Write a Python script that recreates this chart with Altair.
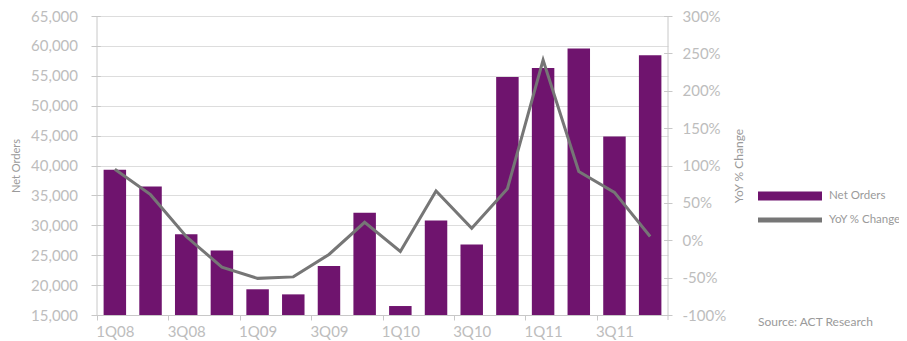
import altair as alt
import pandas as pd

# ---- data ----
quarters = ["1Q08", "2Q08", "3Q08", "4Q08", "1Q09", "2Q09", "3Q09", "4Q09",
            "1Q10", "2Q10", "3Q10", "4Q10", "1Q11", "2Q11", "3Q11", "4Q11"]
net_orders = [39300, 36500, 28500, 25800, 19300, 18450, 23200, 32100,
              16500, 30800, 26800, 54800, 56300, 59550, 44850, 58450]
yoy_change = [95, 61, 5, -36, -51, -49, -19, 24,
              -15, 66, 16, 69, 241, 92, 64, 5]
tick_labels = ["1Q08", "3Q08", "1Q09", "3Q09", "1Q10", "3Q10", "1Q11", "3Q11"]
left_ticks = [15000, 20000, 25000, 30000, 35000, 40000, 45000, 50000, 55000, 60000, 65000]
right_ticks = [-100, -50, 0, 50, 100, 150, 200, 250, 300]
series_names = ["Net Orders", "YoY % Change"]
source_text = "Source: ACT Research"

# ---- styling ----
W, H = 571, 299
STEP = W / 16
PURPLE = "#6f146e"
GRAY = "#767676"
AXIS = "#c8c8c8"
LABEL = "#bdbdbd"
TITLE = "#9a9a9a"
FONT = "Lato"

df = pd.DataFrame({
    "quarter": quarters,
    "orders": net_orders,
    "yoy": yoy_change,
    "s1": series_names[0],
    "s2": series_names[1],
})

x_enc = alt.X(
    "quarter:N", sort=quarters, title=None,
    scale=alt.Scale(paddingInner=0.37, paddingOuter=0.185),
    axis=alt.Axis(values=tick_labels, tickOffset=-STEP / 2, labelOffset=STEP / 2,
                  labelAngle=0, labelFontSize=15, labelColor=LABEL, labelFont=FONT,
                  labelPadding=4, tickSize=5, tickColor=AXIS, domainColor=AXIS),
)

bars = alt.Chart(df).mark_bar(fill=PURPLE, clip=True).encode(
    x=x_enc,
    y=alt.Y("orders:Q",
            scale=alt.Scale(domain=[15000, 65000], nice=False, zero=False),
            axis=alt.Axis(values=left_ticks, format=",.0f", title="Net Orders",
                          offset=-3.3, tickSize=9.3, domain=False, tickColor=AXIS,
                          labelFontSize=15, labelColor=LABEL, labelFont=FONT,
                          labelPadding=13.5, titleFont=FONT, titleFontSize=11,
                          titleFontWeight="normal", titleColor=TITLE, titlePadding=9)),
    y2=alt.datum(15000),
    fill=alt.Fill("s1:N", scale=alt.Scale(domain=[series_names[0]], range=[PURPLE]),
                  legend=alt.Legend(orient="none", legendX=661, legendY=148, title=None,
                                    symbolType="M-1,-0.14H1V0.14H-1Z", symbolSize=4096,
                                    symbolStrokeWidth=0, padding=0, labelOffset=7,
                                    labelFont=FONT, labelFontSize=11.5, labelColor=TITLE)),
)

line = alt.Chart(df).mark_line(strokeWidth=3).encode(
    x=x_enc,
    y=alt.Y("yoy:Q",
            scale=alt.Scale(domain=[-100, 300], nice=False, zero=False),
            axis=alt.Axis(orient="right", values=right_ticks, labelExpr="datum.value + '%'",
                          title="YoY % Change", offset=-4.4, tickSize=8.4, domain=False,
                          tickColor=AXIS, labelFontSize=15, labelColor=LABEL, labelFont=FONT,
                          labelPadding=10, titleFont=FONT, titleFontSize=12,
                          titleFontWeight="normal", titleColor=TITLE, titlePadding=8,
                          titleAngle=270, titleBaseline="top")),
    stroke=alt.Stroke("s2:N", scale=alt.Scale(domain=[series_names[1]], range=[GRAY]),
                      legend=alt.Legend(orient="none", legendX=658.5, legendY=169.5, title=None,
                                        symbolType="stroke", symbolSize=4096,
                                        symbolStrokeWidth=5, padding=0, labelOffset=4.5,
                                        labelFont=FONT, labelFontSize=11.5, labelColor=TITLE)),
)

one = pd.DataFrame({"src": [source_text]})
rule_left = alt.Chart(one).mark_rule(color=AXIS, strokeWidth=1).encode(
    x=alt.value(0), y=alt.value(0), y2=alt.value(H))
rule_right = alt.Chart(one).mark_rule(color=AXIS, strokeWidth=1).encode(
    x=alt.value(W), y=alt.value(0), y2=alt.value(H + 5))
source = alt.Chart(one).mark_text(align="left", baseline="middle", font=FONT,
                                  fontSize=12, color=TITLE).encode(
    x=alt.value(661), y=alt.value(306), text="src:N")

chart = alt.layer(bars, line, rule_left, rule_right, source).resolve_scale(
    y="independent"
).properties(
    width=W, height=H,
    autosize=alt.AutoSizeParams(type="none"),
    padding={"left": 89, "top": 8, "right": 231, "bottom": 26},
).configure_view(stroke=None)

chart.save("out.html", embed_options={"renderer": "svg", "actions": False})
